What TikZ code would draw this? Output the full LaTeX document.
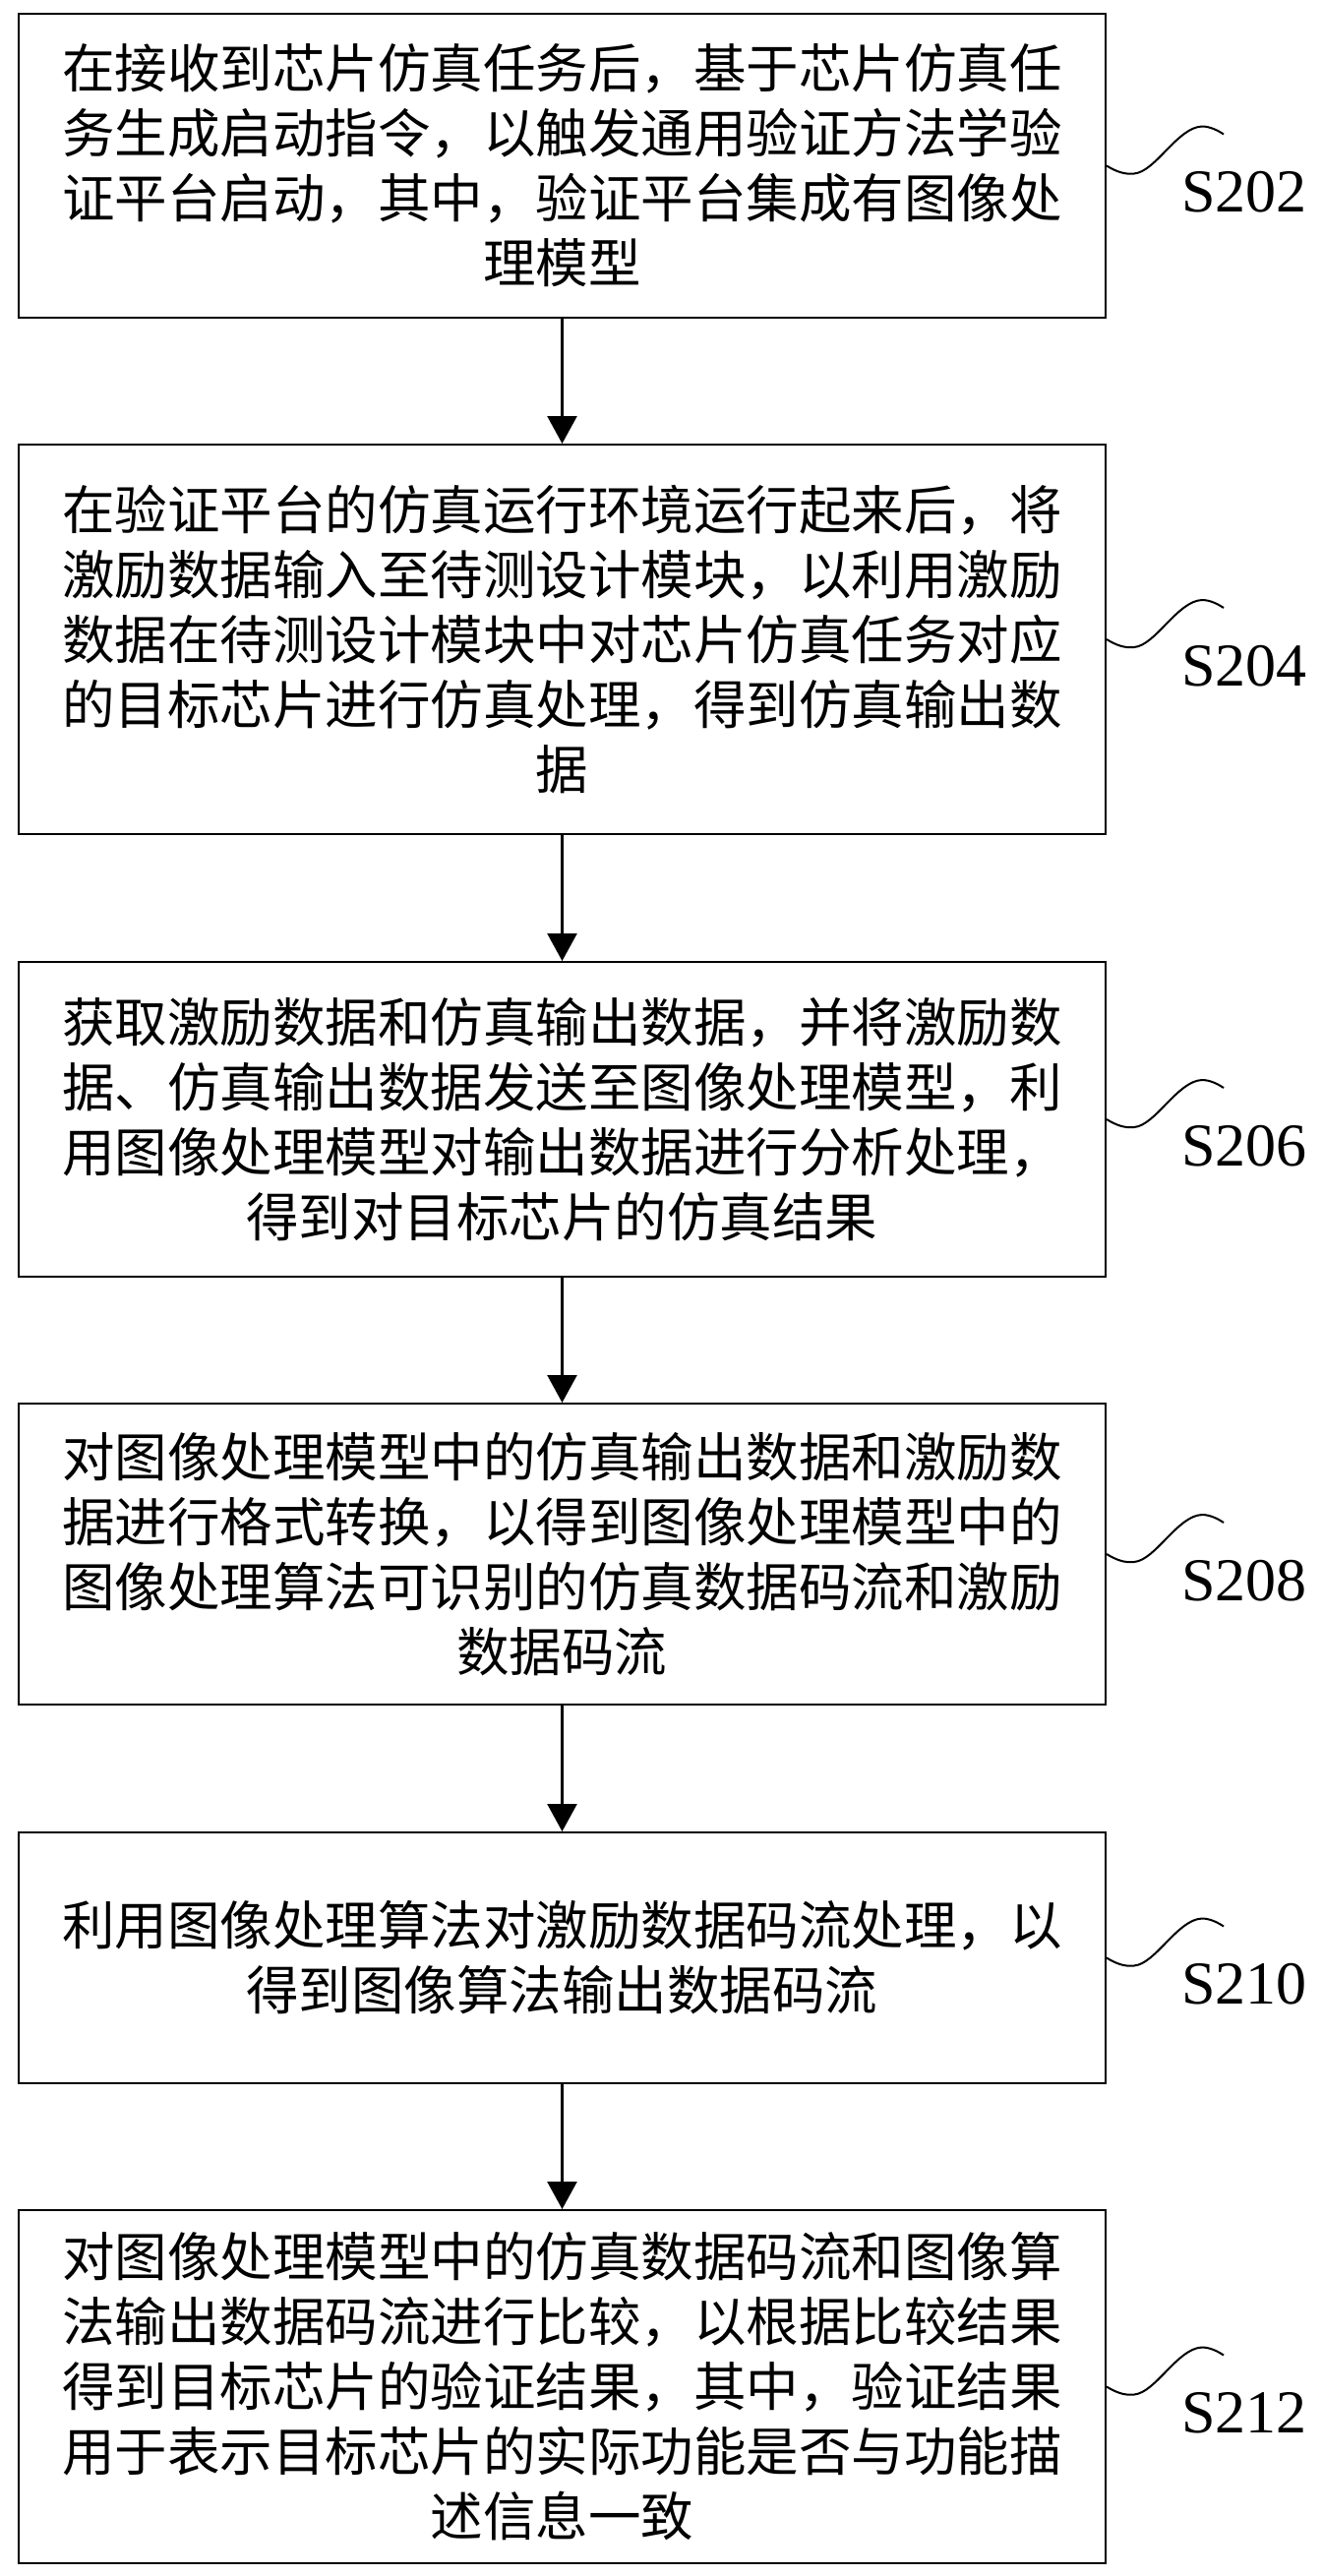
\documentclass[tikz,border=0pt]{standalone}
\usepackage{fontspec}
\setmainfont{Liberation Serif}
\newfontfamily\cjk{Noto Sans CJK SC}
\usetikzlibrary{arrows.meta}
\tikzset{
  stepbox/.style={draw, line width=2pt, minimum width=1105pt, text width=1090pt, align=center,
    font=\cjk\fontsize{53.5}{66}\selectfont, inner sep=0pt},
  flow/.style={line width=2.5pt, -{Triangle[length=28pt,width=30pt]}},
  wave/.style={line width=2pt},
  lab/.style={font=\fontsize{62}{62}\selectfont, anchor=base west, inner sep=0pt}
}
\newcommand{\wavefrom}[1]{%
  \draw[wave, shift={(#1.east)}] (0,0) .. controls (10pt,-6pt) and (18pt,-9pt) .. (28pt,-8pt)
    .. controls (50pt,-6pt) and (72pt,39pt) .. (97pt,40pt)
    .. controls (105pt,40pt) and (113pt,36pt) .. (119pt,32pt);}
\begin{document}
\begin{tikzpicture}
\useasboundingbox (0,0) rectangle (1344pt,-2619pt);
\node[stepbox, minimum height=309pt] (b1) at (571.5pt,-168.5pt)
  {在接收到芯片仿真任务后，基于芯片仿真任\\务生成启动指令，以触发通用验证方法学验\\证平台启动，其中，验证平台集成有图像处\\理模型};
\node[stepbox, minimum height=396pt] (b2) at (571.5pt,-650pt)
  {在验证平台的仿真运行环境运行起来后，将\\激励数据输入至待测设计模块，以利用激励\\数据在待测设计模块中对芯片仿真任务对应\\的目标芯片进行仿真处理，得到仿真输出数\\据};
\node[stepbox, minimum height=320pt] (b3) at (571.5pt,-1138pt)
  {获取激励数据和仿真输出数据，并将激励数\\据、仿真输出数据发送至图像处理模型，利\\用图像处理模型对输出数据进行分析处理，\\得到对目标芯片的仿真结果};
\node[stepbox, minimum height=306pt] (b4) at (571.5pt,-1580pt)
  {对图像处理模型中的仿真输出数据和激励数\\据进行格式转换，以得到图像处理模型中的\\图像处理算法可识别的仿真数据码流和激励\\数据码流};
\node[stepbox, minimum height=255pt] (b5) at (571.5pt,-1990.5pt)
  {利用图像处理算法对激励数据码流处理，以\\得到图像算法输出数据码流};
\node[stepbox, minimum height=359pt] (b6) at (571.5pt,-2426.5pt)
  {对图像处理模型中的仿真数据码流和图像算\\法输出数据码流进行比较，以根据比较结果\\得到目标芯片的验证结果，其中，验证结果\\用于表示目标芯片的实际功能是否与功能描\\述信息一致};
\draw[flow] (b1.south) -- (b2.north);
\draw[flow] (b2.south) -- (b3.north);
\draw[flow] (b3.south) -- (b4.north);
\draw[flow] (b4.south) -- (b5.north);
\draw[flow] (b5.south) -- (b6.north);
\wavefrom{b1}\wavefrom{b2}\wavefrom{b3}\wavefrom{b4}\wavefrom{b5}\wavefrom{b6}
\node[lab] (l1) at ([shift={(76pt,-47pt)}]b1.east) {S202};
\node[lab] (l2) at ([shift={(76pt,-47pt)}]b2.east) {S204};
\node[lab] (l3) at ([shift={(76pt,-47pt)}]b3.east) {S206};
\node[lab] (l4) at ([shift={(76pt,-47pt)}]b4.east) {S208};
\node[lab] (l5) at ([shift={(76pt,-47pt)}]b5.east) {S210};
\node[lab] (l6) at ([shift={(76pt,-47pt)}]b6.east) {S212};
\end{tikzpicture}
\end{document}
